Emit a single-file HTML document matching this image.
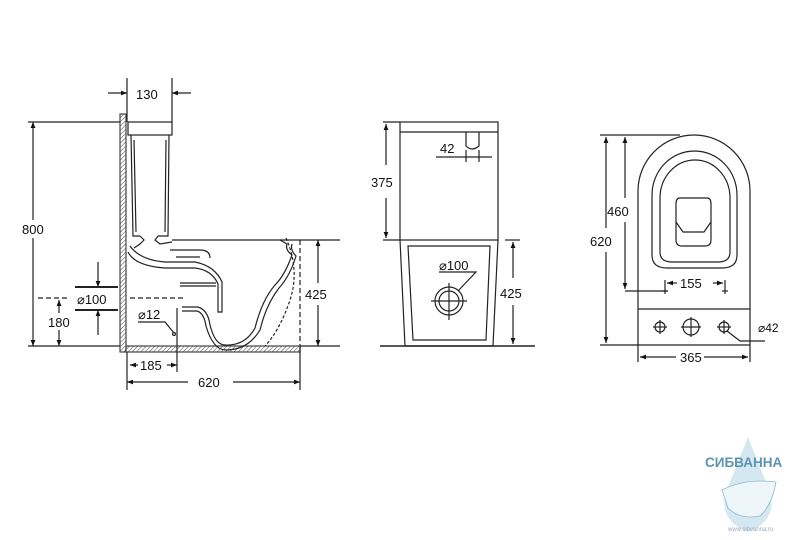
<!DOCTYPE html>
<html><head><meta charset="utf-8"><style>
html,body{margin:0;padding:0;background:#fff;}
svg{display:block;}
text{font-family:"Liberation Sans",sans-serif;font-size:13px;fill:#111;}
</style></head><body>
<svg width="800" height="540" viewBox="0 0 800 540" xmlns="http://www.w3.org/2000/svg">
<defs>
<pattern id="h" width="3" height="3" patternUnits="userSpaceOnUse" patternTransform="rotate(45)">
<line x1="0" y1="0" x2="0" y2="3" stroke="#444" stroke-width="1"/></pattern>
<marker id="a" viewBox="0 0 10 10" refX="10" refY="5" markerWidth="7" markerHeight="5" orient="auto-start-reverse"><path d="M0,1 L10,5 L0,9z" fill="#111"/></marker>
</defs>
<g stroke="#222" stroke-width="1.2" fill="none">
<!-- LEFT VIEW -->
<rect x="120" y="114" width="6" height="238" fill="url(#h)" stroke="#444"/>
<rect x="126" y="346" width="174" height="6" fill="url(#h)" stroke="#444"/>
<line x1="300" y1="346" x2="340" y2="346"/>
<line x1="28" y1="346" x2="120" y2="346"/>
<rect x="128" y="122" width="44" height="13"/>
<path d="M131,135 L133,236 L140,236 M169,135 L168,236 L158,236"/>
<path d="M134,140 L136,232 M166,140 L165,232"/>
<path d="M140,236 L144,240 L140,244 L134,248 M158,236 L155,240 L160,244 L172,242"/>
<line x1="172" y1="240" x2="340" y2="240"/>
<path d="M130,246 Q140,260 165,262 L195,262 Q215,266 222,282 L222,312 L218,312 L218,284 Q212,270 195,268 L165,268 Q135,266 128,252"/>
<path d="M170,250 L200,250 Q210,250 210,258 M176,257 L200,257"/>
<path d="M180,283 L216,283 M180,286 L216,286"/>
<path d="M182,307 L198,307 Q208,310 210,325 Q215,345 225,345 Q245,346 255,328 Q262,300 275,285 Q285,275 292,255 Q285,250 287,244 L280,240"/>
<path d="M182,311 L197,311 Q204,313 206,326 Q213,350 226,350 Q248,350 260,330 Q266,305 279,288 Q290,276 296,256 Q290,250 292,244"/>
<path d="M286,238 Q300,270 290,300 Q280,330 265,346" stroke-dasharray="3,2"/>
<line x1="300" y1="240" x2="300" y2="346" stroke-dasharray="5,3"/>
<line x1="127" y1="78" x2="127" y2="122"/>
<line x1="172" y1="78" x2="172" y2="122"/>
<line x1="108" y1="93" x2="127" y2="93" marker-end="url(#a)"/>
<line x1="191" y1="93" x2="172" y2="93" marker-end="url(#a)"/>
<line x1="28" y1="122" x2="120" y2="122"/>
<line x1="33" y1="122" x2="33" y2="220" marker-start="url(#a)"/>
<line x1="33" y1="238" x2="33" y2="346" marker-end="url(#a)"/>
<line x1="318" y1="240" x2="318" y2="283" marker-start="url(#a)"/>
<line x1="318" y1="305" x2="318" y2="346" marker-end="url(#a)"/>
<line x1="75" y1="287" x2="118" y2="287" stroke-width="2"/>
<line x1="75" y1="310" x2="118" y2="310" stroke-width="2"/>
<line x1="98" y1="262" x2="98" y2="287" marker-end="url(#a)"/>
<line x1="98" y1="335" x2="98" y2="310" marker-end="url(#a)"/>
<line x1="38" y1="298" x2="70" y2="298" stroke-dasharray="5,3"/>
<line x1="130" y1="298" x2="185" y2="298" stroke-dasharray="5,3"/>
<line x1="59" y1="300" x2="59" y2="313" marker-start="url(#a)"/>
<line x1="59" y1="330" x2="59" y2="346" marker-end="url(#a)"/>
<path d="M138,322 L165,322 L174,333"/><circle cx="174" cy="334" r="1.5"/>
<line x1="177" y1="308" x2="177" y2="372"/>
<line x1="127" y1="352" x2="127" y2="390"/>
<line x1="300" y1="346" x2="300" y2="390"/>
<line x1="130" y1="365" x2="138" y2="365" marker-start="url(#a)"/>
<line x1="167" y1="365" x2="177" y2="365" marker-end="url(#a)"/>
<line x1="127" y1="382" x2="188" y2="382" marker-start="url(#a)"/>
<line x1="233" y1="382" x2="300" y2="382" marker-end="url(#a)"/>
<!-- MIDDLE -->
<rect x="400" y="122" width="98" height="118"/>
<line x1="400" y1="132" x2="498" y2="132"/>
<path d="M466,132 L466,146 Q472,152 479,146 L479,132"/>
<line x1="436" y1="157" x2="492" y2="157"/>
<line x1="466" y1="150" x2="466" y2="162"/><line x1="479" y1="150" x2="479" y2="162"/>
<path d="M400,240 L405,346 L493,346 L498,240"/>
<path d="M408,246 L490,246 L486,340 L413,340 Z"/>
<line x1="380" y1="346" x2="535" y2="346" stroke-width="1.6"/>
<line x1="383" y1="122" x2="400" y2="122"/><line x1="383" y1="240" x2="400" y2="240"/>
<line x1="386" y1="124" x2="386" y2="165" marker-start="url(#a)"/>
<line x1="386" y1="198" x2="386" y2="238" marker-end="url(#a)"/>
<circle cx="449" cy="301" r="14"/><circle cx="449" cy="301" r="10"/>
<line x1="431" y1="301" x2="467" y2="301"/><line x1="449" y1="283" x2="449" y2="320"/>
<path d="M439,272 L476,272 L458,291"/>
<line x1="505" y1="240" x2="520" y2="240"/>
<line x1="513" y1="242" x2="513" y2="278" marker-start="url(#a)"/>
<line x1="513" y1="305" x2="513" y2="344" marker-end="url(#a)"/>
<!-- RIGHT -->
<path d="M638,345 L638,191 A56,56 0 0 1 750,191 L750,345 Z"/>
<line x1="638" y1="309" x2="750" y2="309"/>
<path d="M652,195 A42.5,44 0 0 1 737,195 L737,255 Q737,268 722,268 L667,268 Q652,268 652,255 Z"/>
<path d="M660,198 A35,38 0 0 1 730,198 L730,252 Q730,262 718,262 L672,262 Q660,262 660,252 Z"/>
<path d="M680,198 L707,198 Q711,198 711,204 L711,240 Q711,246 705,246 L682,246 Q676,246 676,240 L676,204 Q676,198 680,198 Z"/>
<path d="M676,222 L683,232 L704,232 L711,222"/>
<circle cx="660" cy="327" r="5"/><line x1="653" y1="327" x2="667" y2="327"/><line x1="660" y1="320" x2="660" y2="334"/>
<circle cx="691" cy="327" r="8"/><line x1="681" y1="327" x2="701" y2="327"/><line x1="691" y1="317" x2="691" y2="337"/>
<circle cx="724" cy="327" r="5"/><line x1="717" y1="327" x2="731" y2="327"/><line x1="724" y1="320" x2="724" y2="334"/>
<path d="M727,331 L740,341 L765,341"/>
<line x1="600" y1="135" x2="680" y2="135"/>
<line x1="600" y1="345" x2="638" y2="345"/>
<line x1="606" y1="137" x2="606" y2="228" marker-start="url(#a)"/>
<line x1="606" y1="252" x2="606" y2="343" marker-end="url(#a)"/>
<line x1="625" y1="137" x2="625" y2="198" marker-start="url(#a)"/>
<line x1="625" y1="222" x2="625" y2="289" marker-end="url(#a)"/>
<line x1="625" y1="291" x2="668" y2="291"/>
<line x1="665" y1="280" x2="665" y2="294"/><line x1="725" y1="280" x2="725" y2="294"/>
<line x1="662" y1="291" x2="668" y2="291"/><line x1="722" y1="291" x2="728" y2="291"/>
<line x1="667" y1="283" x2="677" y2="283" marker-start="url(#a)"/>
<line x1="713" y1="283" x2="723" y2="283" marker-end="url(#a)"/>
<line x1="638" y1="345" x2="638" y2="362"/><line x1="750" y1="345" x2="750" y2="362"/>
<line x1="640" y1="357" x2="676" y2="357" marker-start="url(#a)"/>
<line x1="704" y1="357" x2="748" y2="357" marker-end="url(#a)"/>
</g>
<text x="136" y="99">130</text>
<text x="22" y="234">800</text>
<text x="305" y="299">425</text>
<text x="77" y="304">⌀100</text>
<text x="48" y="327">180</text>
<text x="138" y="319">⌀12</text>
<text x="140" y="370">185</text>
<text x="198" y="387">620</text>
<text x="440" y="153">42</text>
<text x="371" y="187">375</text>
<text x="439" y="270">⌀100</text>
<text x="500" y="298">425</text>
<text x="590" y="246">620</text>
<text x="607" y="216">460</text>
<text x="680" y="288">155</text>
<text x="758" y="332" style="font-size:12px">⌀42</text>
<text x="680" y="362">365</text>
<path d="M748,437 Q735,470 726,492 Q718,520 748,532 Q778,520 770,492 Q761,470 748,437 Z" fill="#d4e8f2"/>
<path d="M722,490 Q745,478 776,482 Q772,505 760,516 Q740,520 728,508 Z" fill="#eef6fa" stroke="#8fb7cc" stroke-width="0.8"/>
<text x="705" y="467" style="font-size:13.5px;font-weight:bold;fill:#5d93b3">СИБВАННА</text>
<text x="728" y="531" style="font-size:6px;fill:#9ab">www.sibvanna.ru</text>
</svg>
</body></html>
